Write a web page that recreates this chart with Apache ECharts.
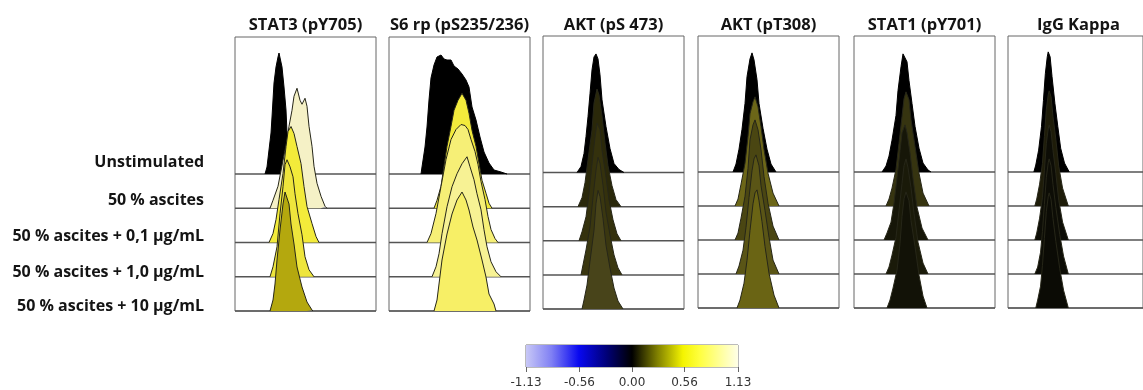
<!DOCTYPE html>
<html>
<head>
<meta charset="utf-8">
<title>Phospho-flow histograms</title>
<script src="https://cdn.jsdelivr.net/npm/echarts@6/dist/echarts.min.js"></script>
<style>
    html, body { margin: 0; padding: 0; background: #fff; }
    #main { width: 1143px; height: 390px; }
</style>
</head>
<body>
<div id="main"></div>
<script>
    // row labels (top row first) and panel titles
    var conditions = ['Unstimulated', '50 % ascites', '50 % ascites + 0,1 µg/mL',
                      '50 % ascites + 1,0 µg/mL', '50 % ascites + 10 µg/mL'];
    var markers = ['STAT3 (pY705)', 'S6 rp (pS235/236)', 'AKT (pS 473)',
                   'AKT (pT308)', 'STAT1 (pY701)', 'IgG Kappa'];

    // histograms: [channel, count] per condition
    var stat3Hists = [
        [[30,0],[32,7],[34,24],[36,41],[37,57],[38,74],[39,91],[41,107],[43,117],[44,121],[46,119],[47,107],[49,87],[51,64],[52,41],[55,21],[58,4],[61,0]],
        [[35,0],[38,8],[43,22],[48,48],[52,68],[54,82],[57,98],[59,112],[62,120],[65,108],[67,104],[70,110],[72,102],[74,82],[77,62],[79,42],[82,25],[86,12],[90,2],[92,0]],
        [[34,0],[38,9],[41,23],[44,43],[48,69],[51,96],[53,111],[56,116],[59,109],[62,96],[66,79],[69,56],[72,36],[77,19],[81,6],[84,0]],
        [[35,0],[38,10],[42,30],[45,63],[48,90],[50,112],[52,117],[55,110],[58,100],[60,83],[63,63],[67,42],[70,20],[74,7],[79,0]],
        [[35,0],[38,11],[40,27],[42,51],[45,81],[48,107],[50,119],[52,117],[54,107],[56,87],[59,67],[62,44],[67,24],[72,9],[77,1],[78,0]]
    ];
    var s6Hists = [
        [[32,0],[33,7],[36,27],[38,47],[40,74],[42,96],[45,109],[48,117],[52,119],[55,115],[58,114],[62,114],[65,108],[69,105],[73,100],[77,94],[80,87],[83,67],[87,54],[91,37],[95,22],[100,11],[105,4],[112,2],[118,0]],
        [[45,0],[48,8],[52,22],[55,42],[58,62],[62,82],[65,98],[69,108],[73,115],[77,108],[80,95],[83,78],[87,62],[90,45],[93,28],[97,15],[100,5],[103,0]],
        [[38,0],[42,9],[47,29],[52,56],[57,83],[62,103],[67,113],[72,118],[76,117],[79,113],[82,103],[86,91],[89,78],[92,61],[96,43],[99,26],[102,13],[106,4],[109,0]],
        [[43,0],[47,10],[50,23],[53,43],[58,70],[63,90],[68,103],[73,113],[78,120],[81,110],[85,97],[88,83],[92,67],[95,47],[98,30],[102,15],[107,5],[112,0]],
        [[45,0],[48,11],[50,27],[53,51],[58,77],[63,97],[68,111],[73,119],[77,111],[80,101],[84,84],[88,71],[93,51],[97,34],[100,17],[105,7],[107,0]]
    ];
    var akt473Hists = [
        [[34,0],[38,6],[41,19],[43,36],[45,56],[47,79],[49,103],[51,116],[53,119],[55,114],[57,98],[59,73],[63,46],[67,24],[71,9],[76,3],[81,0]],
        [[35,0],[39,9],[42,24],[45,47],[49,77],[51,104],[54,118],[56,112],[59,91],[62,64],[65,41],[69,21],[73,7],[78,0]],
        [[36,0],[39,9],[43,24],[46,47],[49,77],[52,104],[54,118],[57,112],[59,91],[63,64],[66,41],[70,21],[74,7],[78,0]],
        [[38,0],[40,10],[43,25],[47,48],[50,78],[53,105],[55,118],[57,112],[60,90],[63,63],[67,40],[71,20],[75,7],[79,0]],
        [[39,0],[41,9],[44,24],[47,48],[51,79],[53,106],[55,119],[57,113],[60,91],[63,64],[67,41],[71,21],[75,8],[80,0]]
    ];
    var akt308Hists = [
        [[35,0],[38,8],[41,23],[44,43],[47,69],[49,96],[52,114],[54,120],[56,113],[59,93],[61,69],[65,44],[69,23],[73,8],[78,0]],
        [[37,0],[40,7],[43,22],[47,43],[50,70],[52,93],[55,105],[57,110],[60,100],[63,80],[66,57],[70,33],[75,13],[81,0]],
        [[37,0],[40,7],[43,22],[47,44],[50,72],[52,101],[55,116],[57,121],[60,111],[63,91],[66,64],[70,37],[75,14],[81,0]],
        [[38,0],[41,8],[45,24],[48,47],[51,77],[54,104],[56,116],[58,120],[61,109],[63,89],[67,64],[71,37],[75,14],[81,0]],
        [[39,0],[42,8],[46,25],[49,48],[52,78],[55,105],[57,116],[59,119],[61,108],[64,87],[67,62],[71,35],[76,13],[81,0]]
    ];
    var stat1Hists = [
        [[28,0],[32,6],[35,16],[38,32],[42,57],[44,82],[47,106],[49,119],[51,120],[53,111],[55,92],[58,69],[61,46],[65,24],[69,9],[74,2],[77,0]],
        [[32,0],[35,7],[38,18],[42,37],[45,63],[48,90],[50,108],[52,115],[55,107],[57,87],[61,60],[65,33],[69,13],[75,0]],
        [[30,0],[33,7],[37,18],[40,37],[43,63],[46,90],[48,108],[51,116],[53,108],[56,88],[59,62],[63,33],[68,12],[74,0]],
        [[32,0],[35,7],[38,19],[42,37],[45,64],[48,91],[50,109],[52,116],[54,107],[57,87],[60,61],[64,32],[69,11],[74,0]],
        [[33,0],[36,8],[39,20],[43,38],[46,65],[48,92],[50,110],[52,117],[55,108],[57,88],[61,62],[65,33],[69,12],[73,0]]
    ];
    var iggHists = [
        [[27,0],[29,7],[32,22],[35,46],[37,72],[39,99],[41,116],[42,121],[44,116],[46,96],[49,69],[52,46],[55,24],[59,9],[64,0]],
        [[28,0],[30,7],[33,22],[36,43],[38,70],[40,97],[42,112],[43,116],[45,110],[47,90],[50,67],[53,40],[57,18],[63,0]],
        [[28,0],[30,7],[33,22],[36,43],[38,70],[40,97],[42,112],[43,116],[45,109],[47,90],[50,67],[53,40],[57,18],[63,0]],
        [[28,0],[31,7],[34,22],[36,43],[38,70],[40,97],[42,112],[43,116],[45,109],[47,90],[50,67],[54,40],[58,18],[63,0]],
        [[29,0],[31,8],[34,22],[36,43],[38,70],[40,97],[42,112],[43,116],[45,109],[47,90],[50,67],[54,40],[58,18],[63,0]]
    ];
    var histsByMarker = [stat3Hists, s6Hists, akt473Hists, akt308Hists, stat1Hists, iggHists];

    // colour scale ticks
    var scaleTicks = [-1.13, -0.56, 0.00, 0.56, 1.13];

    // fill colour of each histogram (heat colour of the condition)
    var fills = [
        ['#000000', '#f5f1c6', '#f3eb3a', '#eee53c', '#b4a80e'],
        ['#000000', '#f3eb3c', '#f6ef76', '#f7f294', '#f7ef66'],
        ['#000000', '#2a280a', '#34310d', '#3a3710', '#48441a'],
        ['#000000', '#6c6618', '#4a4612', '#5a5516', '#6a6414'],
        ['#000000', '#363410', '#161608', '#1a1a09', '#121207'],
        ['#000000', '#1e1c09', '#0d0d06', '#0d0d06', '#0b0b05']
    ];

    var panelLeft = [235, 389, 543, 698, 854, 1008];
    var panelTop = [37, 37, 36, 36, 36, 36];
    var panelHeight = [274, 274, 273, 272, 272, 272];
    var X_MAX = 141, Y_MAX = 274, ROW_GAP = 34.25;
    var FONT = 'bold 16px "Open Sans"';

    var myChart = echarts.init(document.getElementById('main'));

    var grids = [], xAxes = [], yAxes = [], series = [], graphics = [];

    histsByMarker.forEach(function (hists, p) {
        grids.push({
            left: panelLeft[p], top: panelTop[p], width: X_MAX, height: panelHeight[p],
            show: true, borderColor: '#666', borderWidth: 1
        });
        xAxes.push({ type: 'value', gridIndex: p, min: 0, max: X_MAX, show: false });
        yAxes.push({ type: 'value', gridIndex: p, min: 0, max: Y_MAX, show: false });

        // baselines sit under every histogram
        for (var r = 0; r < 5; r++) {
            var base = (4 - r) * ROW_GAP;
            series.push({
                type: 'line', xAxisIndex: p, yAxisIndex: p, silent: true, clip: false, z: 1,
                symbol: 'none', data: [[0, base], [X_MAX, base]],
                lineStyle: { color: '#555', width: 1.5 }
            });
        }
        // lower rows drawn in front
        hists.forEach(function (h, r) {
            var base = (4 - r) * ROW_GAP;
            series.push({
                type: 'line', xAxisIndex: p, yAxisIndex: p, silent: true, clip: false, z: 2 + r,
                symbol: 'none',
                data: h.map(function (d) { return [d[0], base + d[1]]; }),
                lineStyle: { color: r === 0 ? '#000' : '#262618', width: 1 },
                areaStyle: { color: fills[p][r], opacity: 1, origin: base }
            });
        });

        graphics.push({
            type: 'text', x: panelLeft[p] + X_MAX / 2, y: 25,
            style: {
                text: markers[p], fill: '#141414', align: 'center', verticalAlign: 'middle',
                font: 'bold 16.5px "Open Sans"'
            }
        });
    });

    var labelY = [162, 200, 236, 272, 306];
    conditions.forEach(function (c, i) {
        graphics.push({
            type: 'text', x: 204, y: labelY[i],
            style: { text: c, fill: '#141414', align: 'right', verticalAlign: 'middle', font: FONT }
        });
    });

    // colour scale bar
    var cb = grids.length;
    grids.push({ left: 526, top: 345, width: 212, height: 22, show: true, borderColor: '#777', borderWidth: 1 });
    xAxes.push({
        type: 'value', gridIndex: cb, min: scaleTicks[0], max: scaleTicks[scaleTicks.length - 1],
        axisLine: { show: false },
        axisTick: { show: true, customValues: scaleTicks, length: 5, lineStyle: { color: '#666' } },
        axisLabel: {
            customValues: scaleTicks, margin: 10, fontSize: 12, color: '#333',
            fontFamily: 'DejaVu Sans',
            formatter: function (v) { return v.toFixed(2); }
        },
        splitLine: { show: false }
    });
    yAxes.push({ type: 'value', gridIndex: cb, min: 0, max: 1, show: false });
    series.push({
        type: 'line', xAxisIndex: cb, yAxisIndex: cb, silent: true, symbol: 'none',
        data: [[scaleTicks[0], 1], [scaleTicks[scaleTicks.length - 1], 1]],
        lineStyle: { width: 0 },
        areaStyle: {
            opacity: 1,
            color: {
                type: 'linear', x: 0, y: 0, x2: 1, y2: 0,
                colorStops: [
                    { offset: 0, color: '#c8c8f6' },
                    { offset: 0.12, color: '#8080f4' },
                    { offset: 0.25, color: '#0808f0' },
                    { offset: 0.38, color: '#000078' },
                    { offset: 0.5, color: '#000000' },
                    { offset: 0.62, color: '#808000' },
                    { offset: 0.74, color: '#f4f400' },
                    { offset: 0.82, color: '#ffff40' },
                    { offset: 1, color: '#ffffe8' }
                ]
            }
        }
    });

    var option = {
        animation: false,
        backgroundColor: '#ffffff',
        grid: grids,
        xAxis: xAxes,
        yAxis: yAxes,
        series: series,
        graphic: graphics
    };
    myChart.setOption(option);
</script>
</body>
</html>
